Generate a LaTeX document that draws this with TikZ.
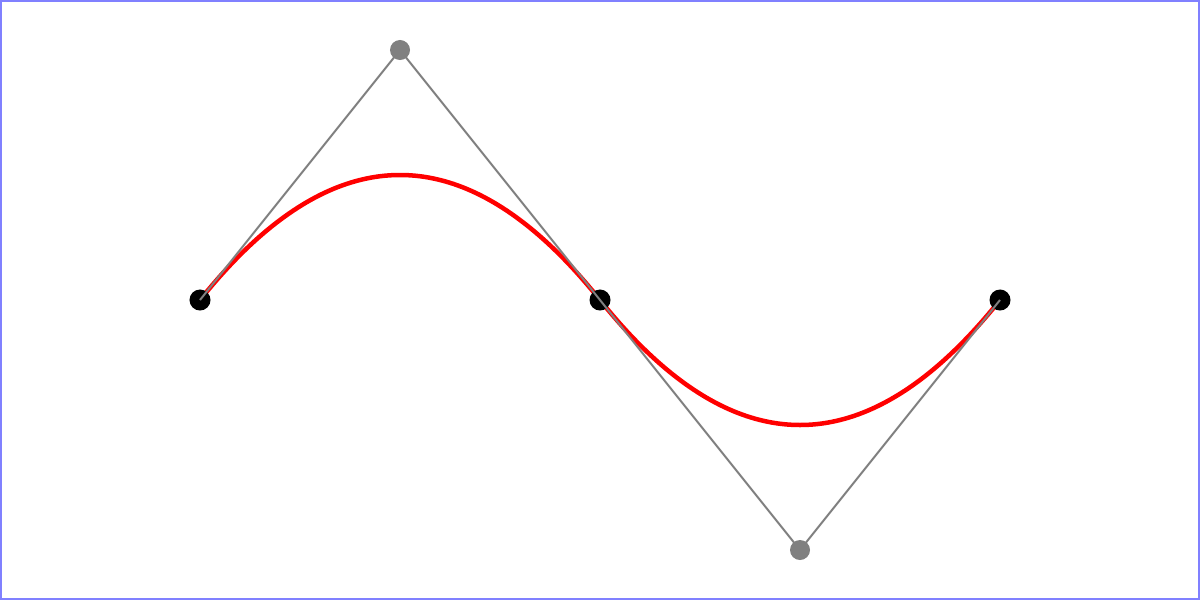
\documentclass[tikz,border=0pt]{standalone}
\usepackage{xcolor}
\usepackage{tikz}
\usetikzlibrary{calc}

\begin{document}
\begin{tikzpicture}
      [ x=0.01cm, y=-0.01cm,
        frame/.style={draw=blue!50, line width=0.02cm},
        ctrlline/.style={draw=gray, line width=0.02cm},
        curveline/.style={draw=red, line width=0.045cm},
        knot/.style={circle, fill=black, inner sep=0pt, minimum size=0.21cm},
        ctrl/.style={circle, fill=gray, inner sep=0pt, minimum size=0.2cm}
      ]
      \useasboundingbox (0,0) rectangle (1200,600);
      \draw[frame] (1,1) rectangle (1199,599);

      \coordinate (p0) at (200,300);
      \coordinate (c0) at (400,50);
      \coordinate (p1) at (600,300);
      \coordinate (c1) at (800,550);
      \coordinate (p2) at (1000,300);

      % quadratic pieces written as cubic ones
      \draw[curveline] (p0) .. controls ($(p0)!2/3!(c0)$) and ($(p1)!2/3!(c0)$) .. (p1)
                            .. controls ($(p1)!2/3!(c1)$) and ($(p2)!2/3!(c1)$) .. (p2);

      \node[knot] (k0) at (p0) {};
      \node[knot] (k1) at (p1) {};
      \node[knot] (k2) at (p2) {};

      \draw[ctrlline] (p0) -- (c0) -- (p1) -- (c1) -- (p2);

      \node[ctrl] (q0) at (c0) {};
      \node[ctrl] (q1) at (c1) {};
\end{tikzpicture}
\end{document}
